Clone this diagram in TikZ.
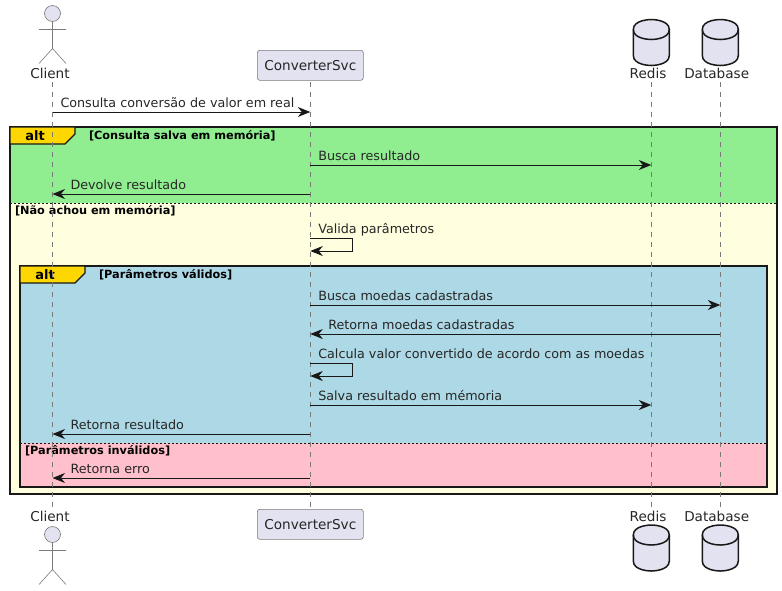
\documentclass[tikz,border=0pt]{standalone}
\usepackage{fontspec}
\setmainfont{DejaVu Sans}
\usetikzlibrary{arrows.meta}

\definecolor{partFill}{HTML}{E2E2F0}
\definecolor{lineDark}{HTML}{181818}
\definecolor{lineGray}{HTML}{7A7A7A}
\definecolor{altGreen}{HTML}{90EE90}
\definecolor{altYellow}{HTML}{FFFFE0}
\definecolor{altBlue}{HTML}{ADD8E6}
\definecolor{altPink}{HTML}{FFC0CB}
\definecolor{altGold}{HTML}{FFD700}

\begin{document}
\begin{tikzpicture}[
            x = 1pt, y = -1pt, % picture in pixels, y going down
            > = {Stealth[length=12.5pt, width=10pt, inset=4pt]}, % arrow head style
            every node/.style={inner sep=0pt, outer sep=0pt},
            msg/.style={->, draw=lineDark, line width=0.95pt},
            msgtext/.style={anchor=base west, font=\fontsize{12.73}{15}\selectfont, text=black!85},
            lifeline/.style={draw=lineGray, line width=0.6pt, dash pattern=on 5pt off 5pt},
            headtext/.style={font=\fontsize{13.6}{16}\selectfont, anchor=base, text=black!85},
            frameline/.style={draw=lineDark, line width=1.5pt},
            divider/.style={draw=lineDark, line width=0.9pt, dash pattern=on 2pt off 2pt},
            tabtext/.style={font=\fontsize{13}{15}\selectfont\bfseries},
            guardtext/.style={anchor=base west, font=\fontsize{11.3}{13}\selectfont\bfseries},
            participant/.style={draw=lineGray, line width=0.6pt, fill=partFill, rounded corners=2.5pt,
                minimum width=106pt, minimum height=30pt, font=\fontsize{13.6}{16}\selectfont, text=black!85},
            dbcan/.pic={
                \draw[draw=lineDark, line width=1.5pt, fill=partFill]
                    (-18,10) .. controls (-18,0) and (0,0) .. (0,0) .. controls (0,0) and (18,0) .. (18,10)
                    -- (18,36) .. controls (18,46) and (0,46) .. (0,46) .. controls (0,46) and (-18,46) .. (-18,36) -- cycle;
                \draw[draw=lineDark, line width=1.5pt]
                    (-18,10) .. controls (-18,20) and (0,20) .. (0,20) .. controls (0,20) and (18,20) .. (18,10);
            },
            actorman/.pic={
                \node[circle, draw=lineGray, line width=0.6pt, fill=partFill, minimum size=16pt] (-head) at (0,8) {};
                \draw[draw=lineGray, line width=0.6pt] (-head.south) -- (0,43) (-13.5,24) -- (13.5,24)
                    (-13.5,58) -- (0,43) -- (13.5,58);
            }
        ]

        \useasboundingbox (0,0) rectangle (782,590);

        % outer alt
        \fill[altGreen] (10,127) rectangle (777,203);
        \fill[altYellow] (10,203) rectangle (777,494);
        \draw[divider] (10,203) -- (777,203);
        \draw[frameline] (10,127) rectangle (777,494);
        \draw[frameline, fill=altGold, line width=1.1pt] (10,127) -- (75,127) -- (75,134) -- (65,144) -- (10,144) -- cycle;

        % inner alt
        \fill[altBlue] (20,266) rectangle (767,443);
        \fill[altPink] (20,443) rectangle (767,487);
        \draw[divider] (20,443) -- (767,443);
        \draw[frameline] (20,266) rectangle (767,487);
        \draw[frameline, fill=altGold, line width=1.1pt] (20,266) -- (85,266) -- (85,273) -- (75,283) -- (20,283) -- cycle;

        \node[tabtext] (altOuter) at (35,135.5) {alt};
        \node[tabtext] (altInner) at (45,274.5) {alt};
        \node[guardtext] (guardSaved) at (89,139.5) {[Consulta salva em memória]};
        \node[guardtext] (guardMissed) at (15,214) {[Não achou em memória]};
        \node[guardtext] (guardValid) at (99,278.5) {[Parâmetros válidos]};
        \node[guardtext] (guardInvalid) at (25,454.5) {[Parâmetros inválidos]};

        % heads and feet
        \pic (ClientMan) at (52.5,5.5) {actorman};
        \node[headtext] (ClientTop) at (50,78) {Client};
        \node[headtext] (ClientBot) at (50,521.5) {Client};
        \pic (ClientFoot) at (52.5,526.5) {actorman};

        \node[participant] (SvcTop) at (310.3,65.3) {ConverterSvc};
        \node[participant] (SvcBot) at (310.3,524.3) {ConverterSvc};

        \pic (RedisCan) at (651.3,19.5) {dbcan};
        \node[headtext] (RedisTop) at (648,78) {Redis};
        \node[headtext] (RedisBot) at (648,521.5) {Redis};
        \pic (RedisFoot) at (651.3,525) {dbcan};

        \pic (DbCan) at (720.3,19.5) {dbcan};
        \node[headtext] (DbTop) at (716.7,78) {Database};
        \node[headtext] (DbBot) at (716.7,521.5) {Database};
        \pic (DbFoot) at (720.3,525) {dbcan};

        % one coordinate per lifeline and row
        \foreach \who/\xpos in {Client/52.5, Svc/310.3, Redis/651.3, Db/720.3} {
            \foreach \row/\ypos in {start/82, a/112, b/165, c/194, d/238, e/251, f/305, g/334, h/363, i/376, j/405, k/434, l/478, stop/508} {
                \coordinate (\who\row) at (\xpos,\ypos);
            }
        }
        \coordinate (LoopAtop) at (352.5,238);
        \coordinate (LoopAbot) at (352.5,251);
        \coordinate (LoopBtop) at (352.5,363);
        \coordinate (LoopBbot) at (352.5,376);

        \draw[lifeline] (Clientstart) -- (Clientstop);
        \draw[lifeline] (Svcstart) -- (Svcstop);
        \draw[lifeline] (Redisstart) -- (Redisstop);
        \draw[lifeline] (Dbstart) -- (Dbstop);

        \draw[msg] (Clienta) -- (Svca);
        \draw[msg] (Svcb) -- (Redisb);
        \draw[msg] (Svcc) -- (Clientc);
        \draw[msg] (Svcd) -- (LoopAtop) -- (LoopAbot) -- (Svce);
        \draw[msg] (Svcf) -- (Dbf);
        \draw[msg] (Dbg) -- (Svcg);
        \draw[msg] (Svch) -- (LoopBtop) -- (LoopBbot) -- (Svci);
        \draw[msg] (Svcj) -- (Redisj);
        \draw[msg] (Svck) -- (Clientk);
        \draw[msg] (Svcl) -- (Clientl);

        \node[msgtext] (txtQuery) at ([shift={(8,-4.2)}]Clienta) {Consulta conversão de valor em real};
        \node[msgtext] (txtFind) at ([shift={(8,-4.2)}]Svcb) {Busca resultado};
        \node[msgtext] (txtBack) at ([shift={(18,-4.2)}]Clientc) {Devolve resultado};
        \node[msgtext] (txtCheck) at ([shift={(8,-4.2)}]Svcd) {Valida parâmetros};
        \node[msgtext] (txtCoins) at ([shift={(8,-4.2)}]Svcf) {Busca moedas cadastradas};
        \node[msgtext] (txtCoinsBack) at ([shift={(18,-4.2)}]Svcg) {Retorna moedas cadastradas};
        \node[msgtext] (txtCalc) at ([shift={(8,-4.2)}]Svch) {Calcula valor convertido de acordo com as moedas};
        \node[msgtext] (txtSave) at ([shift={(8,-4.2)}]Svcj) {Salva resultado em mémoria};
        \node[msgtext] (txtResult) at ([shift={(18,-4.2)}]Clientk) {Retorna resultado};
        \node[msgtext] (txtError) at ([shift={(18,-4.2)}]Clientl) {Retorna erro};

    \end{tikzpicture}
\end{document}
